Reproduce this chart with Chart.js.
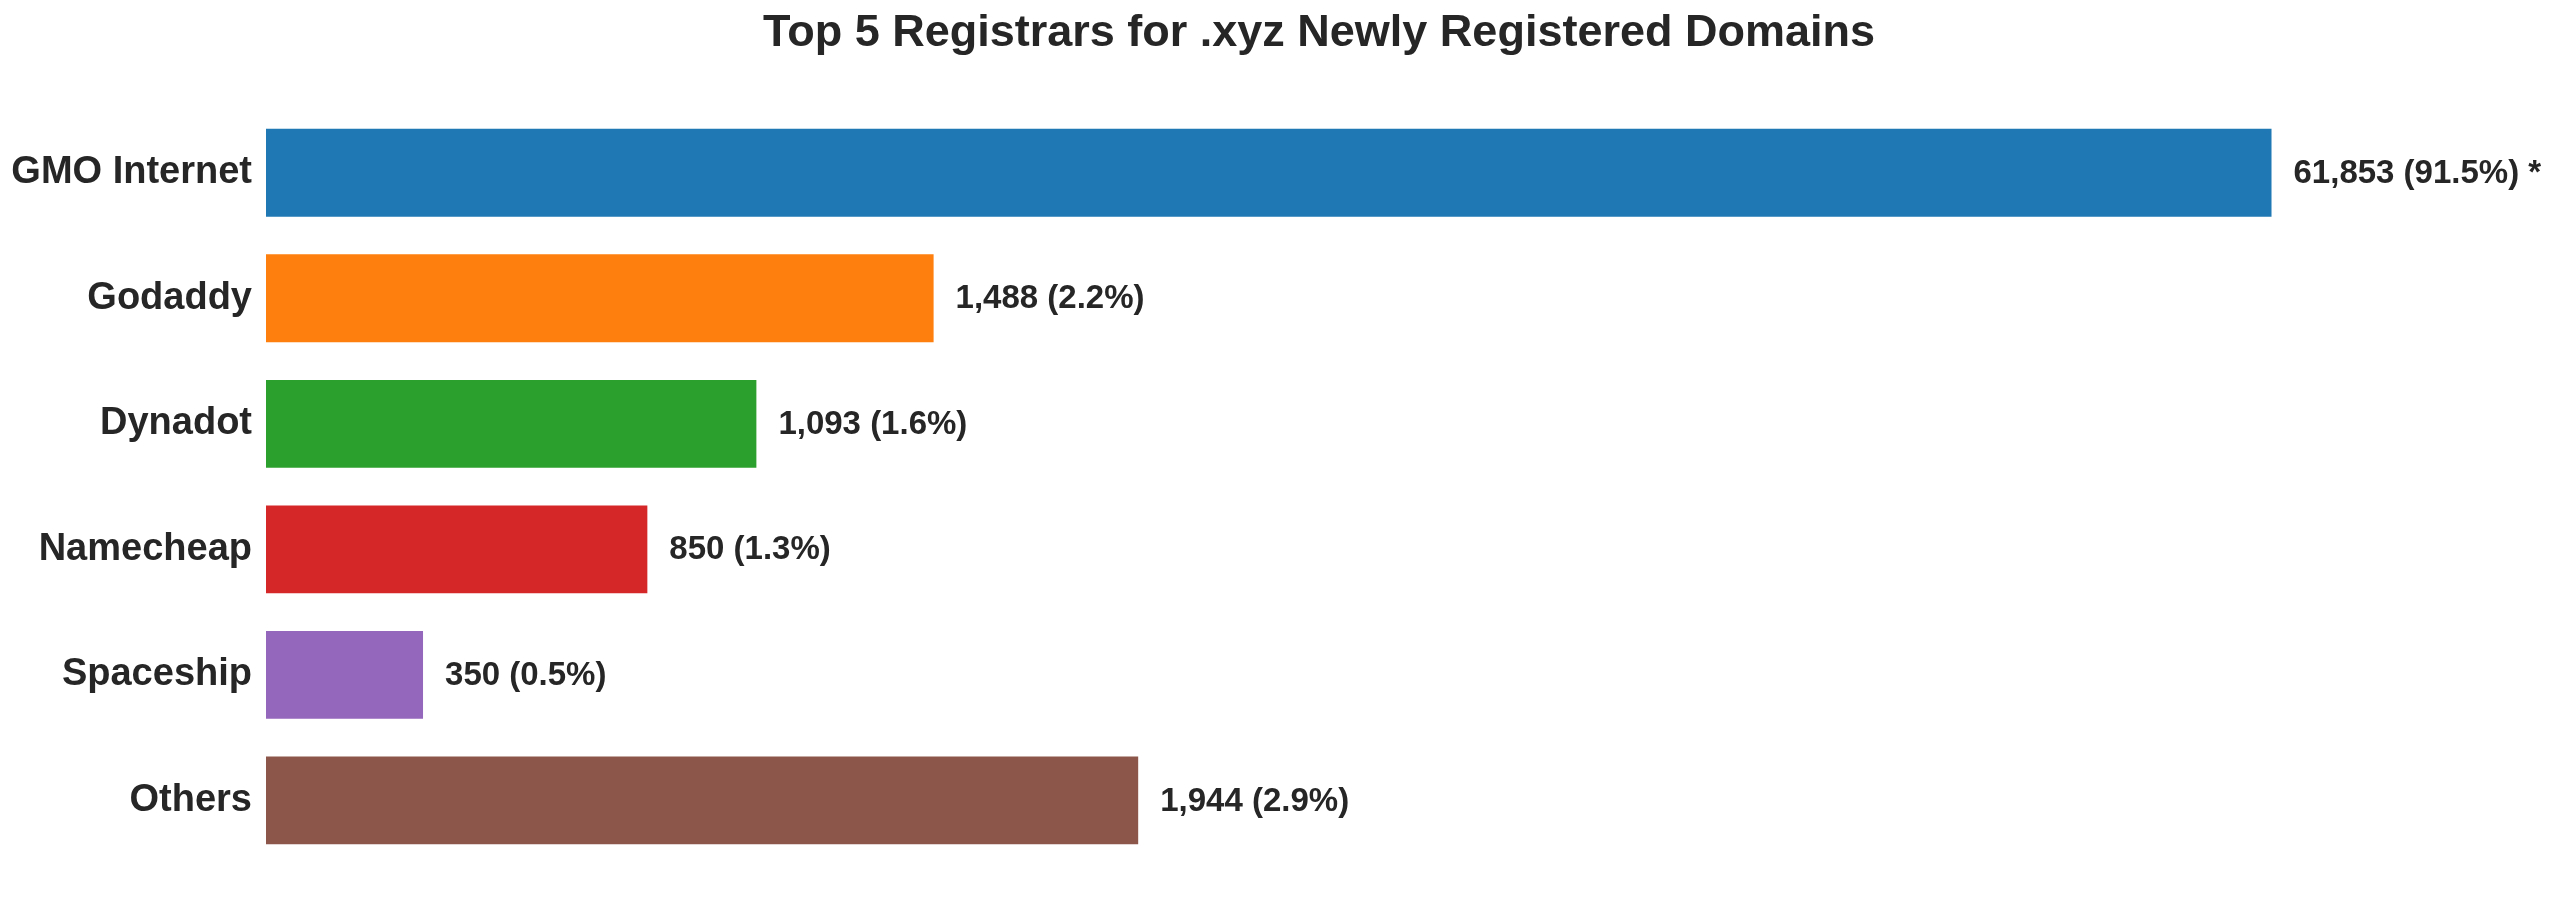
<!DOCTYPE html>
<html>
<head>
<meta charset="utf-8">
<script src="https://cdn.jsdelivr.net/npm/chart.js@4/dist/chart.umd.min.js"></script>
<style>
  html, body { margin: 0; padding: 0; background: #fff; }
  canvas { display: block; }
</style>
</head>
<body>
<canvas id="barChart" width="2560" height="900"></canvas>
<script>
// registrars and newly registered .xyz domains
const registrars = ["GMO Internet", "Godaddy", "Dynadot", "Namecheap", "Spaceship", "Others"];
const domainCounts = [61853, 1488, 1093, 850, 350, 1944];
const barColors = ["#1f77b4", "#ff7f0e", "#2ca02c", "#d62728", "#9467bd", "#8c564b"];

// the GMO bar is cut short (marked with *) so the small ones stay readable
const barCap = 4470;
const axisMax = 4694;

const total = domainCounts.reduce((a, b) => a + b, 0);
const shownLengths = domainCounts.map(v => Math.min(v, barCap));
const valueLabels = domainCounts.map(v =>
  `${v.toLocaleString("en-US")} (${(v / total * 100).toFixed(1)}%)` + (v > barCap ? " *" : "")
);

const textColor = "#262626";
const fontFamily = "'Liberation Sans', Arial, sans-serif";

// title + value labels drawn on the canvas
const labelPlugin = {
  id: "labelPlugin",
  afterDatasetsDraw(chart) {
    const ctx = chart.ctx;
    const area = chart.chartArea;
    ctx.save();
    ctx.fillStyle = textColor;

    ctx.font = `bold 45px ${fontFamily}`;
    ctx.textAlign = "center";
    ctx.textBaseline = "alphabetic";
    ctx.fillText("Top 5 Registrars for .xyz Newly Registered Domains", (area.left + area.right) / 2, 46);

    ctx.font = `bold 33px ${fontFamily}`;
    ctx.textAlign = "left";
    ctx.textBaseline = "middle";
    chart.getDatasetMeta(0).data.forEach((bar, i) => {
      ctx.fillText(valueLabels[i], bar.x + 22, bar.y + 1);
    });
    ctx.restore();
  }
};

const ctx = document.getElementById("barChart").getContext("2d");
new Chart(ctx, {
  type: "bar",
  data: {
    labels: registrars,
    datasets: [{
      data: shownLengths,
      backgroundColor: barColors,
      borderWidth: 0,
      categoryPercentage: 1,
      barPercentage: 0.7
    }]
  },
  options: {
    indexAxis: "y",
    responsive: false,
    animation: false,
    devicePixelRatio: 1,
    layout: { padding: { top: 110, bottom: 31, right: 188, left: 0 } },
    plugins: {
      legend: { display: false },
      title: { display: false },
      tooltip: { enabled: false }
    },
    scales: {
      x: {
        min: 0,
        max: axisMax,
        display: false
      },
      y: {
        grid: { display: false, drawTicks: false },
        border: { display: false },
        ticks: {
          color: textColor,
          padding: 14,
          font: { family: fontFamily, size: 38, weight: "bold" }
        },
        afterFit(scale) { scale.width = 266; }
      }
    }
  },
  plugins: [labelPlugin]
});
</script>
</body>
</html>
